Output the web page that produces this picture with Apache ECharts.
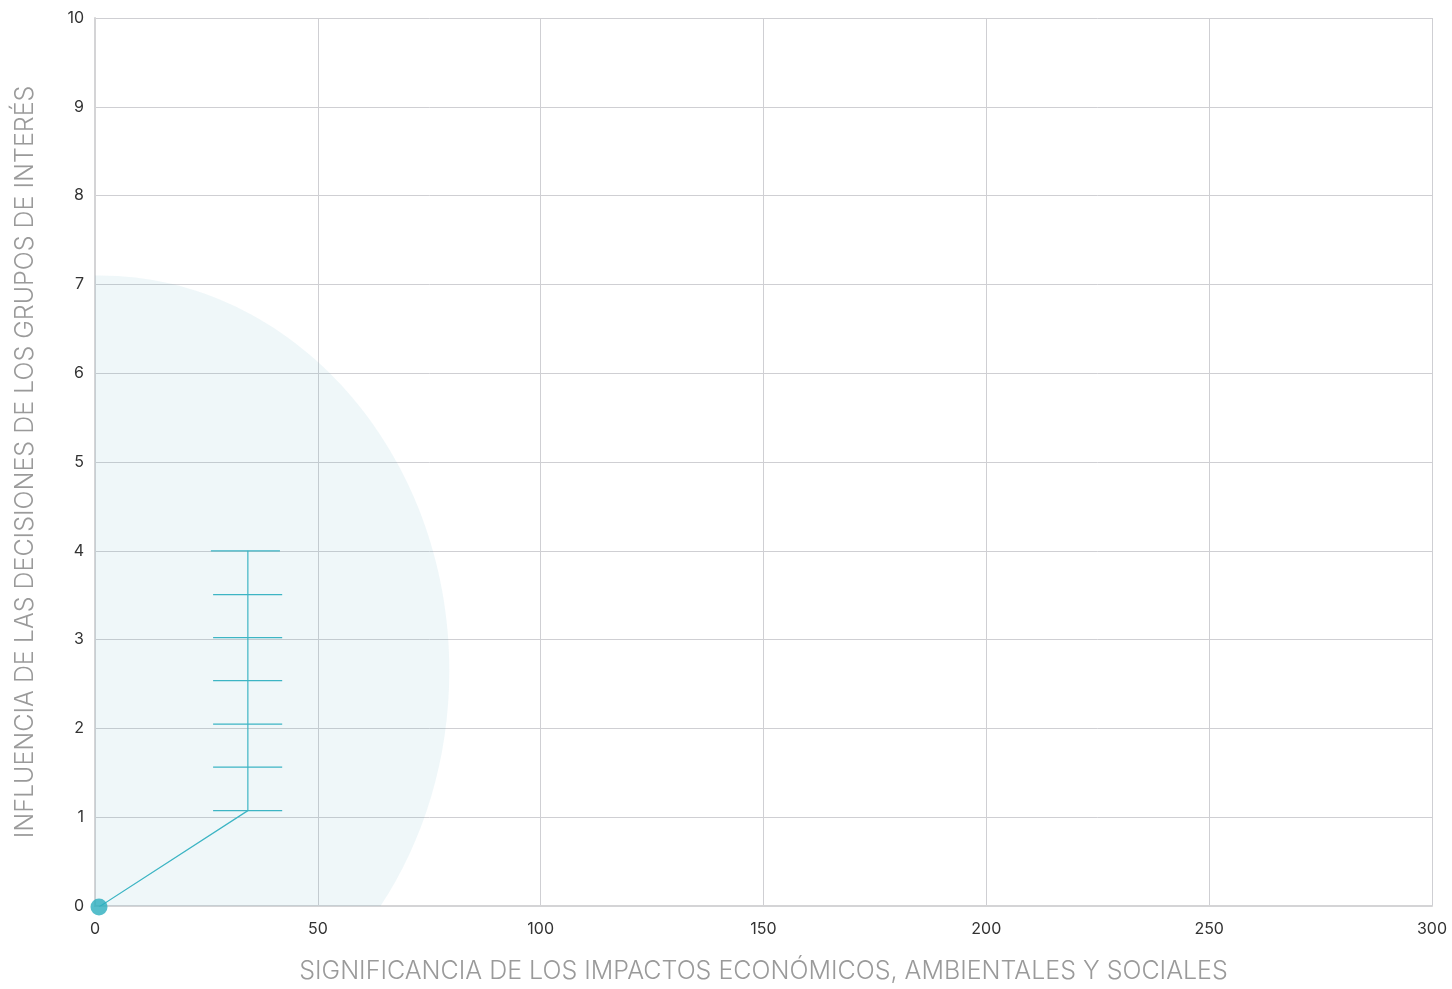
<!DOCTYPE html>
<html>
<head>
<meta charset="utf-8">
<script src="https://cdn.jsdelivr.net/npm/echarts@6/dist/echarts.min.js"></script>
<style>
html,body{margin:0;padding:0;background:#fff;}
#chart{width:1452px;height:989px;}
</style>
</head>
<body>
<div id="chart"></div>
<script>
// ---- data ----
const xAxisName = 'SIGNIFICANCIA DE LOS IMPACTOS ECONÓMICOS, AMBIENTALES Y SOCIALES';
const yAxisName = 'INFLUENCIA DE LAS DECISIONES DE LOS GRUPOS DE INTERÉS';
const xRange = [0, 300, 50];
const yRange = [0, 10, 1];
// bubble: [x, y, radiusX (data units), radiusY (data units)]
const bubble = [[1, 2.65, 78.5, 4.45]];
const dotPoint = [[0.9, -0.01]];
const leaderLine = [[0.9, -0.01], [34.3, 1.074], [34.3, 4.0]];
// ticks: [y, xStart, xEnd]
const tickMarks = [
  [4.0, 26.0, 41.5],
  [3.507, 26.5, 42.0],
  [3.022, 26.5, 42.0],
  [2.537, 26.5, 42.0],
  [2.048, 26.5, 42.0],
  [1.564, 26.5, 42.0],
  [1.074, 26.5, 42.0]
];

const chart = echarts.init(document.getElementById('chart'));
const lineColor = '#3db5c4';
const font = 'Inter';
chart.setOption({
  animation: false,
  grid: { left: 95, right: 20, top: 18, bottom: 77, containLabel: false },
  xAxis: {
    type: 'value', min: xRange[0], max: xRange[1], interval: xRange[2],
    name: xAxisName, nameLocation: 'middle', nameGap: 53,
    nameTextStyle: { color: '#9a9a9a', fontSize: 25, fontFamily: font, fontWeight: 300 },
    axisLine: { show: true, lineStyle: { color: '#d4d4d6', width: 2 } },
    axisTick: { show: false },
    axisLabel: { color: '#333', fontSize: 16, fontFamily: font, margin: 15 },
    splitLine: { show: true, lineStyle: { color: '#cfcfd3', width: 1 } }
  },
  yAxis: {
    type: 'value', min: yRange[0], max: yRange[1], interval: yRange[2],
    name: yAxisName, nameLocation: 'middle', nameGap: 57, nameRotate: 90,
    nameTextStyle: { color: '#9a9a9a', fontSize: 25, fontFamily: font, fontWeight: 300 },
    axisLine: { show: true, lineStyle: { color: '#d4d4d6', width: 2 } },
    axisTick: { show: false },
    axisLabel: { color: '#333', fontSize: 16, fontFamily: font, margin: 11 },
    splitLine: { show: true, lineStyle: { color: '#cfcfd3', width: 1 } }
  },
  series: [
    {
      type: 'custom', clip: true, z: 1,
      data: bubble,
      renderItem: function (params, api) {
        const c = api.coord([api.value(0), api.value(1)]);
        const s = api.size([api.value(2), api.value(3)]);
        return {
          type: 'ellipse',
          shape: { cx: c[0], cy: c[1], rx: s[0], ry: s[1] },
          style: { fill: 'rgba(70,165,185,0.085)' }
        };
      }
    },
    {
      type: 'line', data: leaderLine, symbol: 'none', z: 3,
      lineStyle: { color: lineColor, width: 1.2 }
    },
    {
      type: 'custom', z: 3,
      data: tickMarks,
      renderItem: function (params, api) {
        const p0 = api.coord([api.value(1), api.value(0)]);
        const p1 = api.coord([api.value(2), api.value(0)]);
        return {
          type: 'line',
          shape: { x1: p0[0], y1: p0[1], x2: p1[0], y2: p1[1] },
          style: { stroke: lineColor, lineWidth: 1.2 }
        };
      }
    },
    {
      type: 'scatter', data: dotPoint, symbolSize: 17, z: 4, clip: false,
      itemStyle: { color: '#2aaebe' }
    }
  ]
});
</script>
</body>
</html>
